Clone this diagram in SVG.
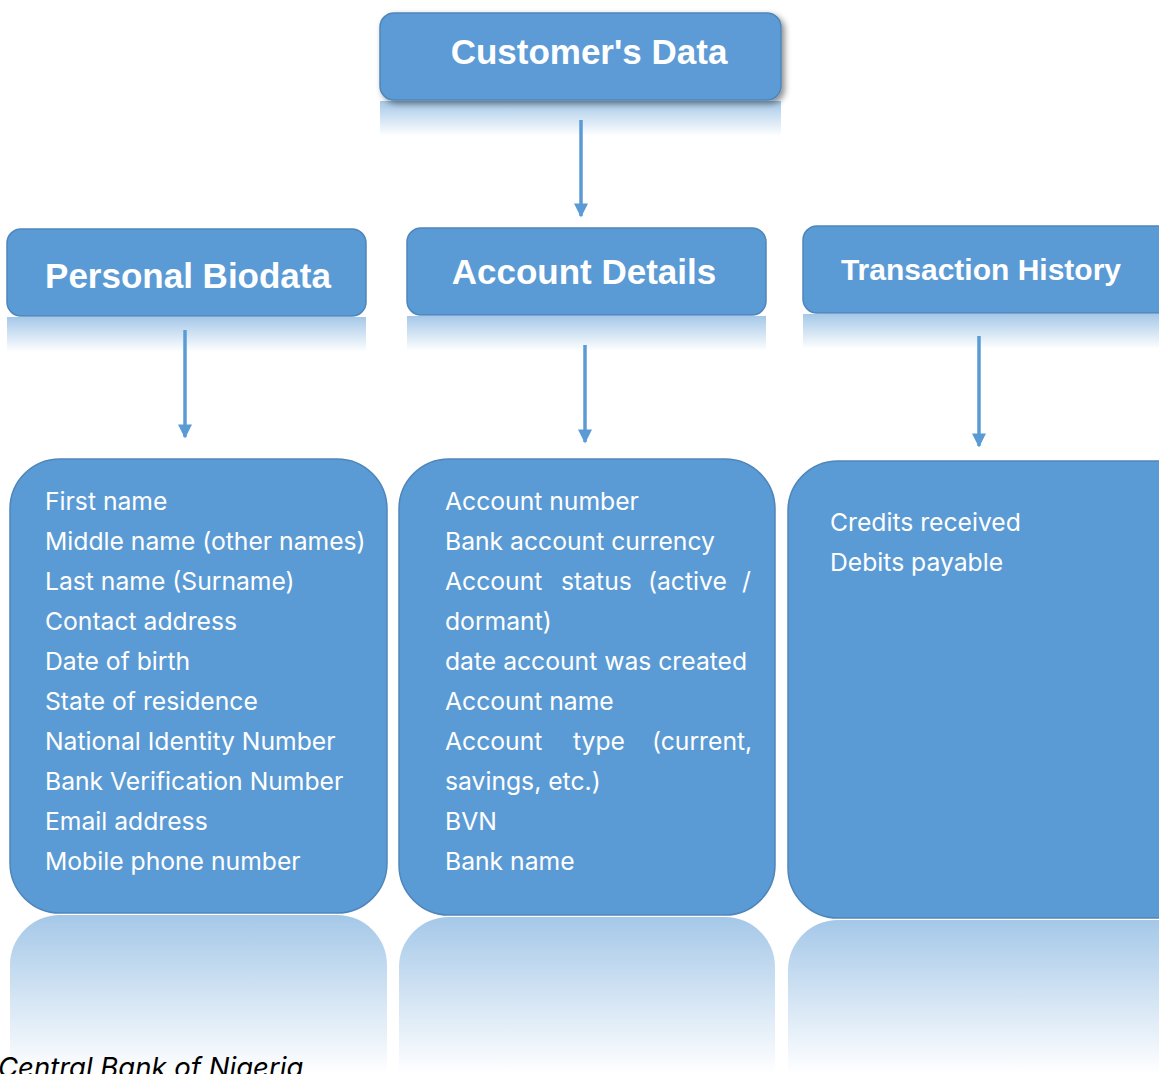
<svg xmlns="http://www.w3.org/2000/svg" width="1159" height="1074" viewBox="0 0 1159 1074">
<defs>
<style>
.box{fill:#5b9bd5;stroke:#4f86ba;stroke-width:1.5}
.title{font-family:"Liberation Sans",Arial,sans-serif;font-weight:bold;fill:#fff;text-anchor:middle}
.item{font-family:Inter,"Liberation Sans",Arial,sans-serif;font-size:24.7px;fill:#fff}
.conn{stroke:#5b9bd5;stroke-width:3.5;fill:none}
</style>
<linearGradient id="refl" x1="0" y1="0" x2="0" y2="1">
<stop offset="0" stop-color="#5b9bd5" stop-opacity="0.55"/>
<stop offset="1" stop-color="#5b9bd5" stop-opacity="0"/>
</linearGradient>
<filter id="sh" x="-10%" y="-20%" width="125%" height="150%">
<feDropShadow dx="3" dy="3" stdDeviation="3" flood-color="#000" flood-opacity="0.45"/>
</filter>
<marker id="arr" viewBox="0 0 10 10" refX="9" refY="5" markerWidth="18" markerHeight="14" markerUnits="userSpaceOnUse" orient="auto">
<path d="M0,0 L10,5 L0,10 z" fill="#5b9bd5"/>
</marker>
</defs>
<rect width="1159" height="1074" fill="#fff"/>

<g id="reflections">
<path d="M380,101 h401 v35 h-401 z" fill="url(#refl)"/>
<path d="M7,317 h359 v35 h-359 z" fill="url(#refl)"/>
<path d="M407,316 h359 v35 h-359 z" fill="url(#refl)"/>
<path d="M803,314 h360 v35 h-360 z" fill="url(#refl)"/>
<path d="M10,1074 V965 a50,50 0 0 1 50,-50 H337 a50,50 0 0 1 50,50 V1074 z" fill="url(#refl)"/>
<path d="M399,1074 V967 a50,50 0 0 1 50,-50 H725 a50,50 0 0 1 50,50 V1074 z" fill="url(#refl)"/>
<path d="M788,1074 V970 a50,50 0 0 1 50,-50 H1159 V1074 z" fill="url(#refl)"/>
</g>

<g id="connectors">
<line class="conn" x1="581" y1="120" x2="581" y2="216" marker-end="url(#arr)"/>
<line class="conn" x1="185" y1="330" x2="185" y2="437" marker-end="url(#arr)"/>
<line class="conn" x1="585" y1="345" x2="585" y2="442" marker-end="url(#arr)"/>
<line class="conn" x1="979" y1="336" x2="979" y2="446" marker-end="url(#arr)"/>
</g>

<g id="customers-data">
<rect class="box" x="380" y="13" width="401" height="87" rx="14" filter="url(#sh)"/>
<text class="title" x="589" y="64" font-size="35">Customer's Data</text>
</g>

<g id="personal-biodata">
<rect class="box" x="7" y="229" width="359" height="87" rx="14"/>
<text class="title" x="188" y="288" font-size="35">Personal Biodata</text>
</g>

<g id="account-details">
<rect class="box" x="407" y="228" width="359" height="87" rx="14"/>
<text class="title" x="584" y="284" font-size="35">Account Details</text>
</g>

<g id="transaction-history">
<rect class="box" x="803" y="226" width="370" height="87" rx="14"/>
<text class="title" x="981" y="280" font-size="30">Transaction History</text>
</g>

<g id="personal-list">
<rect class="box" x="10" y="459" width="377" height="454" rx="50"/>
<text class="item" x="45" y="510">First name</text>
<text class="item" x="45" y="550">Middle name (other names)</text>
<text class="item" x="45" y="590">Last name (Surname)</text>
<text class="item" x="45" y="630">Contact address</text>
<text class="item" x="45" y="670">Date of birth</text>
<text class="item" x="45" y="710">State of residence</text>
<text class="item" x="45" y="750">National Identity Number</text>
<text class="item" x="45" y="790">Bank Verification Number</text>
<text class="item" x="45" y="830">Email address</text>
<text class="item" x="45" y="870">Mobile phone number</text>
</g>

<g id="account-list">
<rect class="box" x="399" y="459" width="376" height="456" rx="50"/>
<text class="item" x="445" y="510">Account number</text>
<text class="item" x="445" y="550">Bank account currency</text>
<text class="item" y="590"><tspan x="445">Account</tspan><tspan x="561">status</tspan><tspan x="648">(active</tspan><tspan x="742">/</tspan></text>
<text class="item" x="445" y="630">dormant)</text>
<text class="item" x="445" y="670">date account was created</text>
<text class="item" x="445" y="710">Account name</text>
<text class="item" y="750"><tspan x="445">Account</tspan><tspan x="573">type</tspan><tspan x="652">(current,</tspan></text>
<text class="item" x="445" y="790">savings, etc.)</text>
<text class="item" x="445" y="830">BVN</text>
<text class="item" x="445" y="870">Bank name</text>
</g>

<g id="transaction-list">
<rect class="box" x="788" y="461" width="420" height="457" rx="50"/>
<text class="item" x="830" y="531">Credits received</text>
<text class="item" x="830" y="571">Debits payable</text>
</g>

<text x="-2" y="1077" font-family="Inter,'Liberation Sans',Arial,sans-serif" font-style="italic" font-size="27.5" fill="#000">Central Bank of Nigeria</text>
</svg>
